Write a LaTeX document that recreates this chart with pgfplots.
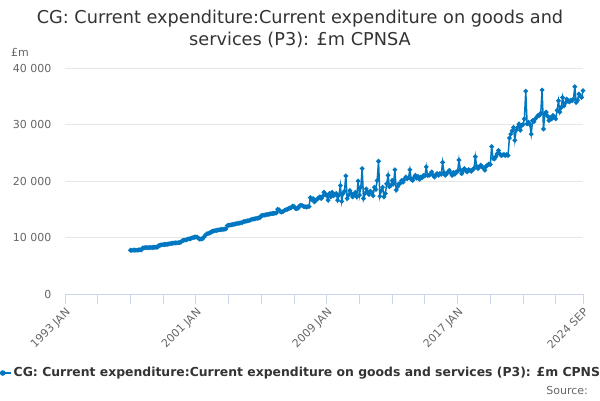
\documentclass[border=0pt]{standalone}
\usepackage{fontspec}
\setmainfont{DejaVu Sans}
\usepackage{pgfplots}
\pgfplotsset{compat=1.18}
\usepackage{pgfplotstable}
\definecolor{series}{RGB}{0,119,192}
\definecolor{gridc}{RGB}{230,230,230}
\definecolor{axisc}{RGB}{204,214,235}
\definecolor{tickc}{RGB}{102,102,102}
\definecolor{titlec}{RGB}{51,51,51}

% monthly values, 1997 JAN ... 2024 SEP (one row per month)
\pgfplotstableread[row sep=\\]{v\\
7750\\7720\\7760\\7780\\7750\\7770\\7800\\7820\\7800\\8150\\8180\\8200\\
8200\\8220\\8210\\8230\\8240\\8250\\8280\\8300\\8320\\8600\\8650\\8700\\
8750\\8760\\8780\\8800\\8850\\8900\\8950\\9000\\9020\\9050\\9050\\9080\\
9100\\9150\\9450\\9500\\9550\\9600\\9700\\9750\\9800\\9900\\10000\\10050\\
10100\\10050\\9850\\9700\\9750\\9800\\10100\\10400\\10650\\10700\\10800\\10900\\
11100\\11150\\11200\\11250\\11300\\11350\\11400\\11420\\11450\\11480\\11500\\12100\\
12150\\12200\\12250\\12300\\12350\\12400\\12450\\12500\\12550\\12600\\12650\\12800\\
12850\\12900\\12950\\13000\\13100\\13200\\13250\\13300\\13350\\13400\\13450\\13500\\
13850\\13900\\13950\\14000\\14050\\14100\\14150\\14200\\14250\\14250\\14300\\14350\\
15000\\14900\\14550\\14500\\14600\\14800\\14900\\15000\\15100\\15200\\15300\\15550\\
15500\\15150\\15100\\15200\\15600\\15700\\15650\\15500\\15450\\15400\\15450\\15500\\
17050\\16700\\16900\\16300\\16600\\16800\\17000\\17200\\16900\\17300\\18000\\17700\\
17400\\16600\\17800\\17200\\18000\\17400\\17600\\17800\\16600\\17500\\19200\\16400\\
17800\\18200\\20900\\16900\\17500\\18300\\17800\\17200\\17600\\18000\\17200\\20000\\
17500\\18900\\22200\\16900\\17800\\18600\\18000\\17600\\18200\\18000\\17400\\18900\\
18500\\20100\\23500\\17300\\18300\\18900\\17200\\17800\\19500\\21000\\19000\\19200\\
20100\\19500\\22000\\18400\\19000\\19500\\19600\\20100\\19800\\20300\\20700\\20400\\
20600\\22000\\20300\\20100\\20600\\21000\\20500\\20800\\20300\\20700\\20600\\21000\\
20900\\22500\\21000\\21000\\21200\\21600\\21000\\20700\\21100\\21300\\21000\\21300\\
21200\\23300\\21500\\21000\\21300\\21600\\21900\\21400\\21000\\21500\\21200\\21600\\
21700\\23700\\22000\\21300\\21800\\22200\\21800\\21600\\22000\\21900\\21700\\22000\\
22200\\24300\\22600\\22200\\22500\\22800\\22500\\22300\\21900\\22600\\22800\\23000\\
22900\\26100\\24000\\23900\\24300\\24800\\25400\\24800\\24500\\24600\\24700\\24500\\
24700\\24500\\27600\\28300\\28900\\29500\\27200\\29000\\29500\\30100\\29000\\29800\\
30000\\31000\\35900\\30100\\30400\\30000\\28300\\30700\\30500\\31000\\31300\\31600\\
31600\\32000\\36100\\29200\\31900\\32200\\31500\\30700\\31200\\31000\\31600\\31300\\
31000\\32500\\34200\\32200\\33000\\34800\\33300\\33800\\34500\\34200\\34000\\34300\\
34200\\34500\\36700\\33900\\34300\\35400\\35000\\34800\\36000\\
}\cgdata

\begin{document}
\begin{tikzpicture}[x=1bp,y=1bp]
\path[use as bounding box] (0,0) rectangle (600,400);
\begin{axis}[
  at={(65bp,106bp)}, anchor=south west,
  scale only axis, width=518bp, height=226bp,
  xmin=-48, xmax=332, ymin=0, ymax=40000,
  clip=false,
  axis x line*=bottom, axis y line*=left,
  y axis line style={draw=none},
  x axis line style={color=axisc, line width=1bp},
  xtick={-48,48,144,240,332},
  xticklabels={1993 JAN,2001 JAN,2009 JAN,2017 JAN,2024 SEP},
  minor xtick={-24,0,24,72,96,120,168,192,216,264,288,312},
  xtick style={color=axisc, line width=1bp},
  major tick length=10bp, minor tick length=10bp, tick align=outside,
  ytick={0,10000,20000,30000,40000},
  yticklabels={0,10 000,20 000,30 000,40 000},
  scaled y ticks=false,
  ytick style={draw=none},
  ymajorgrids, grid style={color=gridc, line width=1bp},
  tick label style={font=\fontsize{11bp}{13bp}\selectfont, color=tickc},
  xticklabel style={rotate=45, anchor=north east, inner sep=2bp},
  legend style={at={(axis description cs:-0.138,-0.3496)}, anchor=west,
    draw=none, fill=none, inner sep=0pt,
    font=\bfseries\fontsize{12.4bp}{14bp}\selectfont, text=titlec},
  legend image code/.code={
    \draw[series, line width=2bp] (0bp,0bp) -- (16bp,0bp);
    \fill[series] (8bp,0bp) circle (2bp);},
]
\addplot[color=series, line width=1.5bp, mark=*, mark size=1.5bp]
  table[x expr=\coordindex, y=v] {\cgdata};
\addlegendentry{CG: Current expenditure:Current expenditure on goods and services (P3): £m CPNSA}
\end{axis}
\node[align=center, font=\fontsize{17.7bp}{22bp}\selectfont, text=titlec] at (300,371)
  {CG: Current expenditure:Current expenditure on goods and\\services (P3): £m CPNSA};
\node[font=\fontsize{11bp}{13bp}\selectfont, text=tickc] at (20,348) {£m};
\node[anchor=east, font=\fontsize{11bp}{13bp}\selectfont, text=tickc, inner sep=0pt] at (588,10) {Source:};
\end{tikzpicture}
\end{document}
